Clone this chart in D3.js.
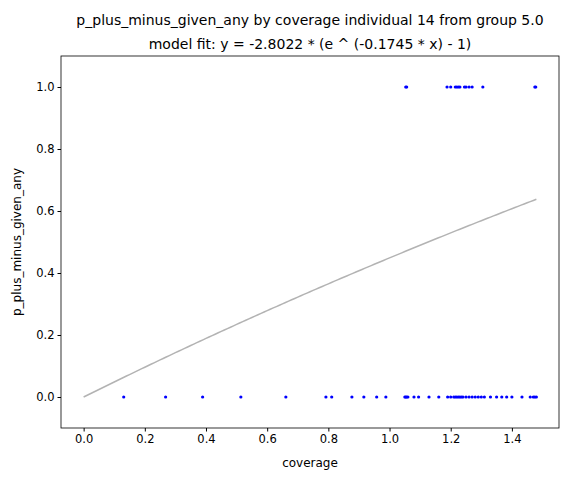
<!DOCTYPE html><html><head><script src="https://cdn.jsdelivr.net/npm/d3@7"></script>
<style>body{margin:0;background:#fff}text{font-family:"DejaVu Sans",sans-serif}</style></head><body>
<svg width="588" height="480"></svg>
<script>
const zeroX=[0.131,0.268,0.389,0.514,0.661,0.792,0.811,0.877,0.916,0.958,0.988,1.05,1.053,1.056,1.06,1.08,1.095,1.129,1.161,1.19,1.2,1.21,1.215,1.22,1.225,1.23,1.235,1.24,1.25,1.26,1.27,1.28,1.29,1.3,1.31,1.33,1.35,1.367,1.383,1.40,1.433,1.46,1.47,1.475,1.48];
const oneX=[1.053,1.056,1.188,1.2,1.215,1.22,1.225,1.23,1.245,1.25,1.26,1.27,1.305,1.475,1.478];
const coefA=-2.8022, coefB=-0.1745;
const xTicks=[0,0.2,0.4,0.6,0.8,1.0,1.2,1.4], yTicks=[0,0.2,0.4,0.6,0.8,1.0];
const svg=d3.select("svg");
const L=61,R=559,T=56,B=428;
const x=d3.scaleLinear().domain([-0.074,1.554]).range([L,R]);
const y=d3.scaleLinear().domain([-0.1,1.1]).range([B,T]);
const fitX=d3.range(0,1.4801,0.01);
svg.append("path").attr("d",d3.line().x(d=>x(d)).y(d=>y(coefA*(Math.exp(coefB*d)-1)))(fitX)).attr("fill","none").attr("stroke","#b3b3b3").attr("stroke-width",1.5);
svg.selectAll(".z").data(zeroX).join("circle").attr("cx",d=>x(d)).attr("cy",y(0)).attr("r",1.6).attr("fill","blue");
svg.selectAll(".o").data(oneX).join("circle").attr("cx",d=>x(d)).attr("cy",y(1)).attr("r",1.6).attr("fill","blue");
svg.append("rect").attr("x",L).attr("y",T).attr("width",R-L).attr("height",B-T).attr("fill","none").attr("stroke","#000").attr("stroke-width",0.8);
svg.append("g").attr("transform",`translate(0,${B})`).call(d3.axisBottom(x).tickValues(xTicks).tickFormat(d3.format(".1f")).tickSizeOuter(0).tickSize(3.5)).call(g=>g.select(".domain").remove()).selectAll("text").attr("font-size",11.5).attr("fill","#000").attr("font-family","DejaVu Sans");
svg.append("g").attr("transform",`translate(${L},0)`).call(d3.axisLeft(y).tickValues(yTicks).tickFormat(d3.format(".1f")).tickSizeOuter(0).tickSize(3.5)).call(g=>g.select(".domain").remove()).selectAll("text").attr("font-size",11.5).attr("fill","#000").attr("font-family","DejaVu Sans");
svg.append("text").attr("x",(L+R)/2).attr("y",467).attr("text-anchor","middle").attr("font-size",12).text("coverage");
svg.append("text").attr("transform",`translate(21,${(T+B)/2}) rotate(-90)`).attr("text-anchor","middle").attr("font-size",12).text("p_plus_minus_given_any");
svg.append("text").attr("x",(L+R)/2).attr("y",25).attr("text-anchor","middle").attr("font-size",14).text("p_plus_minus_given_any by coverage individual 14 from group 5.0");
svg.append("text").attr("x",(L+R)/2).attr("y",49).attr("text-anchor","middle").attr("font-size",14).text("model fit: y = -2.8022 * (e ^ (-0.1745 * x) - 1)");
</script></body></html>
